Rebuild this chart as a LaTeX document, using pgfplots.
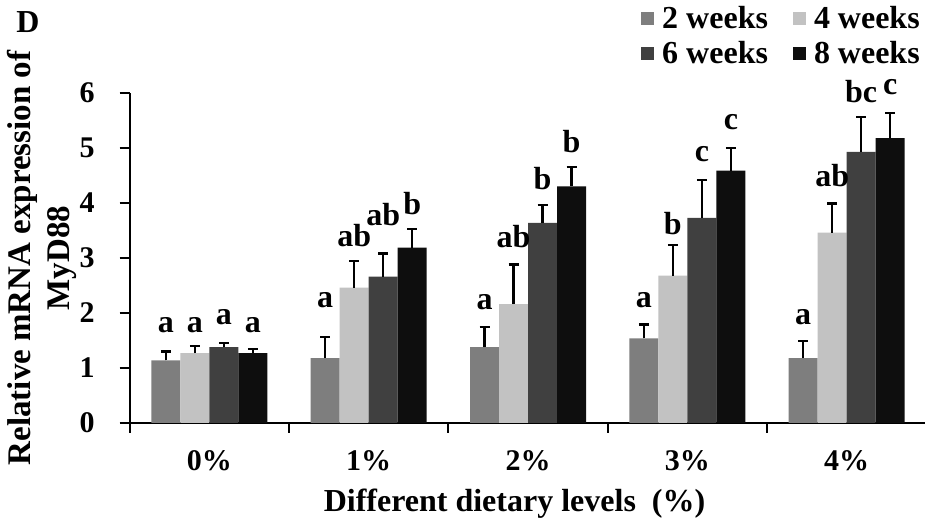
\documentclass[border=0pt]{standalone}
\usepackage{fontspec}
\setmainfont{Liberation Serif}
\usepackage{pgfplots}
\pgfplotsset{compat=1.18}
\usepackage{pgfplotstable}
\definecolor{cA}{RGB}{126,126,126}
\definecolor{cB}{RGB}{194,194,194}
\definecolor{cC}{RGB}{64,64,64}
\definecolor{cD}{RGB}{14,14,14}

\pgfplotstableread{
x y err ly lab
0 1.14 0.16 1.64 a
1 1.18 0.38 2.09 a
2 1.38 0.36 2.05 a
3 1.54 0.25 2.09 a
4 1.18 0.31 1.78 a
}\wtwo
\pgfplotstableread{
x y err ly lab
0 1.27 0.13 1.64 a
1 2.46 0.49 3.20 ab
2 2.16 0.72 3.18 ab
3 2.68 0.56 3.42 b
4 3.46 0.53 4.29 ab
}\wfour
\pgfplotstableread{
x y err ly lab
0 1.38 0.07 1.78 a
1 2.66 0.42 3.58 ab
2 3.64 0.33 4.24 b
3 3.73 0.69 4.75 c
4 4.93 0.64 5.82 bc
}\wsix
\pgfplotstableread{
x y err ly lab
0 1.27 0.07 1.64 a
1 3.19 0.33 3.78 b
2 4.30 0.36 4.91 b
3 4.59 0.41 5.33 c
4 5.18 0.46 5.96 c
}\weight

\pgfplotsset{
  sq/.style={legend image code/.code={\fill[##1] (0pt,-3.25pt) rectangle (6.5pt,3.25pt);}},
  lab/.style={nodes near coords, point meta=explicit symbolic,
     visualization depends on={\thisrow{ly}-\thisrow{y} \as \dly},
     every node near coord/.append style={anchor=south, inner sep=0pt, yshift=\dly*27.5pt,
        font=\bfseries\fontsize{16}{18}\selectfont, text=black}},
  eb/.style={error bars/y dir=plus, error bars/y explicit, error bars/error mark=-,
     error bars/error bar style={line width=1.1pt, black},
     error bars/error mark options={rotate=90, mark size=2.5pt, line width=1.1pt, black}},
}

\begin{document}
\begin{tikzpicture}
\path[use as bounding box] (0,0) rectangle (463pt,261.5pt);
\node[font=\bfseries\fontsize{16}{18}\selectfont] at (14pt,250.5pt) {D};
\begin{axis}[
  at={(64.875pt,50pt)}, anchor=south west,
  scale only axis, width=397.5pt, height=165pt,
  xmin=-0.5, xmax=4.49, ymin=0, ymax=6,
  axis lines*=left,
  axis line style={line width=1pt, black},
  ybar=0pt, bar width=14.5pt,
  clip=false,
  ytick={0,1,2,3,4,5,6},
  xtick={-0.5,0.5,1.5,2.5,3.5}, xticklabels={,,,,},
  extra x ticks={0,1,2,3,4},
  extra x tick labels={0\%,1\%,2\%,3\%,4\%},
  extra x tick style={major tick length=0pt},
  tick align=outside, major tick length=5pt,
  tick style={line width=1pt, black},
  /pgf/number format/assume math mode=true,
  tick label style={font=\bfseries\fontsize{15}{17}\selectfont},
  x tick label style={yshift=-10pt},
  y tick label style={xshift=-9pt},
  ylabel={Relative mRNA expression of\\MyD88},
  ylabel style={align=center, at={(axis description cs:-0.11,0.5)}, anchor=center,
     font=\bfseries\fontsize{16.5}{19.5}\selectfont},
  xlabel={Different dietary levels\ \ (\%)},
  xlabel style={at={(axis description cs:0.484,-0.245)}, anchor=center,
     font=\bfseries\fontsize{16}{18}\selectfont},
  legend columns=2,
  legend style={at={(axis description cs:0.998,1.274)}, anchor=north east,
     draw=none, fill=none, inner sep=0pt, row sep=2pt,
     nodes={inner sep=1.5pt},
     font=\bfseries\fontsize{16}{18}\selectfont,
     /tikz/every odd column/.append style={column sep=2.5pt},
     /tikz/every even column/.append style={column sep=11pt}},
  legend cell align=left,
]
\addplot[fill=cA, draw=none, sq, lab, eb] table[x=x, y=y, y error=err, meta=lab] {\wtwo};
\addplot[fill=cB, draw=none, sq, lab, eb] table[x=x, y=y, y error=err, meta=lab] {\wfour};
\addplot[fill=cC, draw=none, sq, lab, eb] table[x=x, y=y, y error=err, meta=lab] {\wsix};
\addplot[fill=cD, draw=none, sq, lab, eb] table[x=x, y=y, y error=err, meta=lab] {\weight};
\legend{2 weeks, 4 weeks, 6 weeks, 8 weeks}
\end{axis}
\end{tikzpicture}
\end{document}
